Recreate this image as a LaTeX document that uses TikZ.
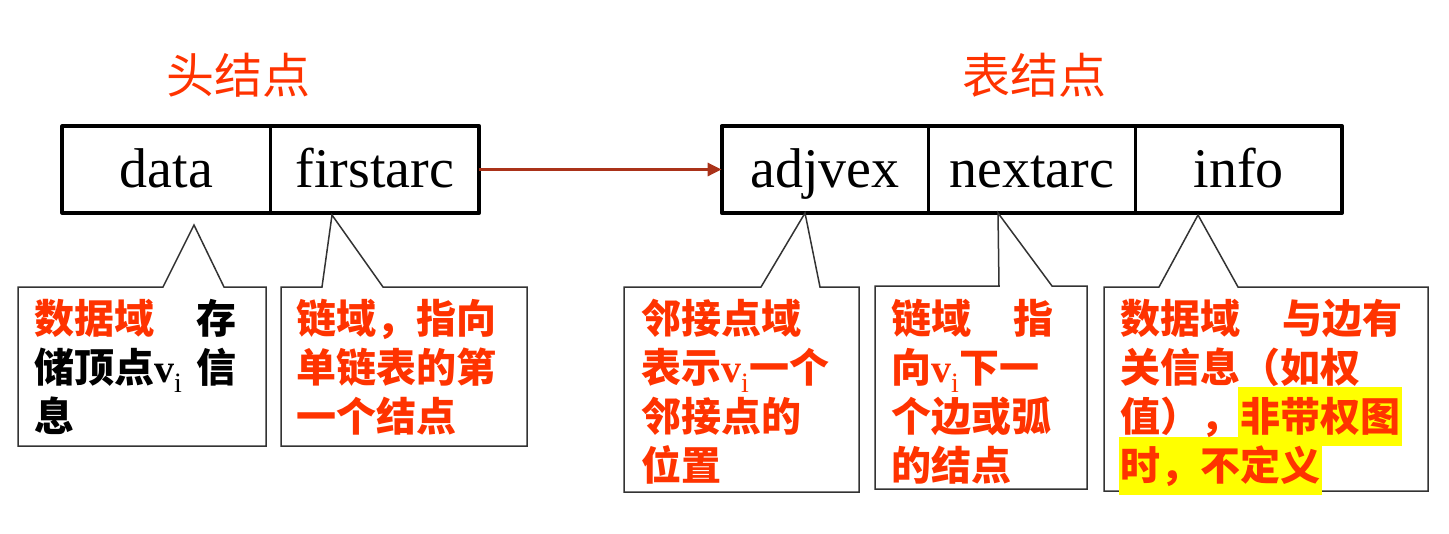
\documentclass[tikz,border=0pt]{standalone}
\usepackage{fontspec}
\setmainfont{Liberation Serif}
\newfontfamily\cjk{Noto Sans CJK SC}
\usetikzlibrary{positioning,arrows.meta}

\definecolor{notered}{RGB}{255,51,0}
\definecolor{linkred}{RGB}{170,50,25}
\definecolor{markyellow}{RGB}{255,255,0}

% subscripted vertex name inside the notes
\newcommand{\vsub}{{\rmfamily\bfseries v}\textsubscript{\rmfamily\mdseries i}}

\tikzset{
  field/.style={draw, line width=1.5pt, minimum height=85pt, inner sep=0pt,
    text height=42pt, text depth=6pt, font=\fontsize{56}{60}\selectfont},
  frame/.style={line width=4pt, line join=round},
  title/.style={text=notered, font=\cjk\fontsize{48}{52}\selectfont},
  noteline/.style={draw=black!80, line width=1.5pt},
  notetext/.style={anchor=north west, inner sep=0pt, align=left, text=notered,
    font=\cjk\bfseries\fontsize{40}{49}\selectfont},
  link/.style={linkred, line width=3pt, -{Triangle[length=14pt,width=13pt]}}
}

\begin{document}
\begin{tikzpicture}[x=1pt, y=-1pt]
    \useasboundingbox (0,0) rectangle (1449,533);

    % Titles
    \node[title] (headtitle) at (238,75) {头结点};
    \node[title] (arctitle) at (1034,75) {表结点};

    % Head node
    \node[field, minimum width=207pt] (data) at (166.5,169.5) {data};
    \node[field, minimum width=207pt, right=0pt of data] (firstarc) {firstarc};
    \draw[frame] (data.north west) rectangle (firstarc.south east);

    % Arc node
    \node[field, minimum width=205.3pt] (adjvex) at (825,169.5) {adjvex};
    \node[field, minimum width=205.3pt, right=0pt of adjvex] (nextarc) {nextarc};
    \node[field, minimum width=205.3pt, right=0pt of nextarc] (info) {info};
    \draw[frame] (adjvex.north west) rectangle (info.south east);

    % Pointer from head node to arc node
    \draw[link] (firstarc.east) -- (adjvex.west);

    % Callout outlines
    \draw[noteline] (163,287) -- (194,225) -- (224,287) -- (266,287) -- (266,446) -- (18,446) -- (18,287) -- cycle;
    \draw[noteline] (322,287) -- (332,215) -- (383,287) -- (527,287) -- (527,446) -- (281,446) -- (281,287) -- cycle;
    \draw[noteline] (761,287) -- (805,213) -- (820,287) -- (859,287) -- (859,492) -- (624,492) -- (624,287) -- cycle;
    \draw[noteline] (999,286) -- (998,213) -- (1052,286) -- (1087,286) -- (1087,489) -- (875,489) -- (875,286) -- cycle;
    \draw[noteline] (1159,287) -- (1198,215) -- (1238,287) -- (1428,287) -- (1428,491) -- (1104,491) -- (1104,287) -- cycle;

    % Highlight in the last note
    \fill[markyellow] (1238,387) rectangle (1402,446);
    \fill[markyellow] (1119,437) rectangle (1322,495);

    % Note texts
    \node[notetext, text=black, text width=202pt] (datanote) at (34,299)
        {{\color{notered}数据域}\hfill 存\\ 储顶点\vsub\hfill 信\\ 息};
    \node[notetext, text width=202pt] (firstnote) at (296,299)
        {链域，指向\\ 单链表的第\\ 一个结点};
    \node[notetext, text width=202pt] (adjnote) at (641,299)
        {邻接点域\\ 表示\vsub 一个\\ 邻接点的\\ 位置};
    \node[notetext, text width=162pt] (nextnote) at (891,299)
        {链域\hfill 指\\ 向\vsub 下一\\ 个边或弧\\ 的结点};
    \node[notetext, text width=282pt] (infonote) at (1120,299)
        {数据域\hfill 与边有\\ 关信息（如权\\ 值），非带权图\\ 时，不定义};
\end{tikzpicture}
\end{document}
